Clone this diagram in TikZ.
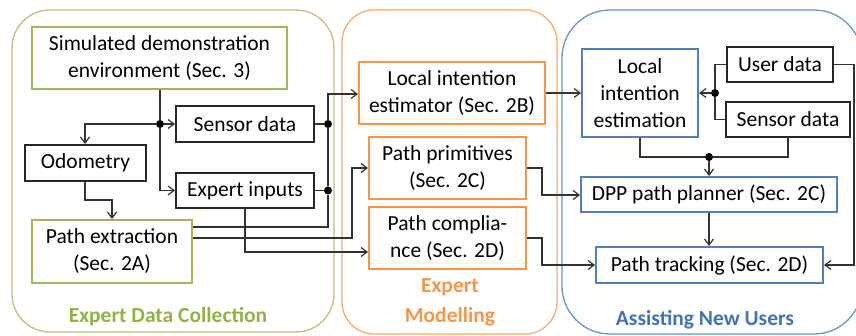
\documentclass[tikz,border=0pt]{standalone}
\usepackage{fontspec}
\setmainfont{Carlito}
\usetikzlibrary{arrows.meta}
\definecolor{cgreen}{RGB}{155,187,89}
\definecolor{corange}{RGB}{247,150,70}
\definecolor{cblue}{RGB}{79,129,189}
\definecolor{cgreentxt}{RGB}{146,178,66}
\definecolor{cbluetxt}{RGB}{68,114,186}
\tikzset{
  box/.style={draw, line width=2pt, align=center, inner sep=0pt, font=\fontsize{21.5}{27}\selectfont},
  gbox/.style={box, draw=cgreen},
  obox/.style={box, draw=corange},
  bbox/.style={box, draw=cblue},
  kbox/.style={box, draw=black!85},
  wire/.style={line width=1.3pt, draw=black!80},
  arr/.style={wire, -{Straight Barb[length=6pt,width=9pt,line width=1.2pt]}},
  dot/.style={circle, fill=black, inner sep=0pt, minimum size=8pt},
  group/.style={line width=1.3pt, rounded corners=#1},
  glabel/.style={font=\fontsize{21.5}{30}\selectfont\bfseries, align=center}
}
\begin{document}
\begin{tikzpicture}[x=1pt,y=-1pt]
\useasboundingbox (0,0) rectangle (856,336);
% containers
\draw[group=38pt, draw=cgreen!80] (12,10) rectangle (334,332);
\draw[group=32pt, draw=corange!80] (342,10) rectangle (557,334);
\draw[group=48pt, draw=cblue!85] (562,10) rectangle (862,334);
\node[glabel, text=cgreentxt] (lg) at (168,317) {Expert Data Collection};
\node[glabel, text=corange] (lo) at (450,302) {Expert\\Modelling};
\node[glabel, text=cbluetxt] (lb) at (705,320) {Assisting New Users};
% left boxes
\node[gbox, minimum width=255pt, minimum height=62pt] (sim) at (159.5,58) {Simulated demonstration\\environment (Sec. 3)};
\node[kbox, minimum width=138pt, minimum height=36pt] (sens1) at (245,124) {Sensor data};
\node[kbox, minimum width=138pt, minimum height=35pt] (exp) at (245,190.5) {Expert inputs};
\node[kbox, minimum width=121pt, minimum height=36pt] (odo) at (85.5,163) {Odometry};
\node[gbox, minimum width=160pt, minimum height=63pt] (pext) at (112,251.5) {Path extraction\\(Sec. 2A)};
% middle boxes
\node[obox, minimum width=186pt, minimum height=62pt] (lie) at (452,93) {Local intention\\estimator (Sec. 2B)};
\node[obox, minimum width=157pt, minimum height=62pt] (pp) at (447.5,168) {Path primitives\\(Sec. 2C)};
\node[obox, minimum width=157pt, minimum height=62pt] (pc) at (447.5,238) {Path complia-\\nce (Sec. 2D)};
% right boxes
\node[bbox, minimum width=116pt, minimum height=88pt] (lies) at (640,93) {Local\\intention\\estimation};
\node[kbox, minimum width=106pt, minimum height=35pt] (user) at (780,64.5) {User data};
\node[kbox, minimum width=124pt, minimum height=35pt] (sens2) at (788,119.5) {Sensor data};
\node[bbox, minimum width=256pt, minimum height=35pt] (dpp) at (709,194.5) {DPP path planner (Sec. 2C)};
\node[bbox, minimum width=227pt, minimum height=36pt] (ptr) at (709.5,265) {Path tracking (Sec. 2D)};
% junction coordinates
\node[dot] (j1) at (160,124) {};
\node[dot] (ja) at (328,124) {};
\node[dot] (jb) at (328,190.5) {};
\node[dot] (jr) at (715,93) {};
\node[dot] (jd) at (709,157) {};
\coordinate (btop) at (328,94);
\coordinate (bbot) at (328,227);
% left wiring
\draw[wire] (sim.south -| j1) -- (j1);
\draw[arr] (j1) -- (sens1.west);
\draw[arr] (j1) -- (j1 |- exp.west) -- (exp.west);
\draw[arr] (j1) -- (85,124) -- (odo.north -| 85,0);
\draw[arr] (odo.south -| 85,0) -- (85,200) -- (112,200) -- (pext.north -| 112,0);
\draw[wire] (sens1.east) -- (ja);
\draw[wire] (exp.east) -- (jb);
\draw[wire] (pext.east |- bbot) -- (bbot) -- (jb) -- (ja);
\draw[arr] (ja) -- (btop) -- (lie.west |- btop);
\draw[arr] (pext.east |- 0,238) -- (352,238) -- (352,168) -- (pp.west);
\draw[arr] (exp.south -| 245,0) -- (245,252) -- (pc.west |- 0,252);
% middle to right
\draw[arr] (lie.east) -- (lies.west);
\draw[arr] (pp.east) -- (542,168) -- (542,195) -- (dpp.west |- 0,195);
\draw[arr] (pc.east) -- (542,238) -- (542,265) -- (ptr.west);
% right wiring
\draw[wire] (user.west) -- (715,64.5) -- (jr);
\draw[wire] (sens2.west) -- (715,119.5) -- (jr);
\draw[arr] (jr) -- (lies.east);
\draw[wire] (lies.south) -- (640,157) -- (jd) -- (788,157) -- (sens2.south -| 788,0);
\draw[arr] (jd) -- (dpp.north -| jd);
\draw[arr] (dpp.south -| 709,0) -- (ptr.north -| 709,0);
\draw[arr] (user.east) -- (854,64.5) -- (854,265) -- (ptr.east);
\end{tikzpicture}
\end{document}
